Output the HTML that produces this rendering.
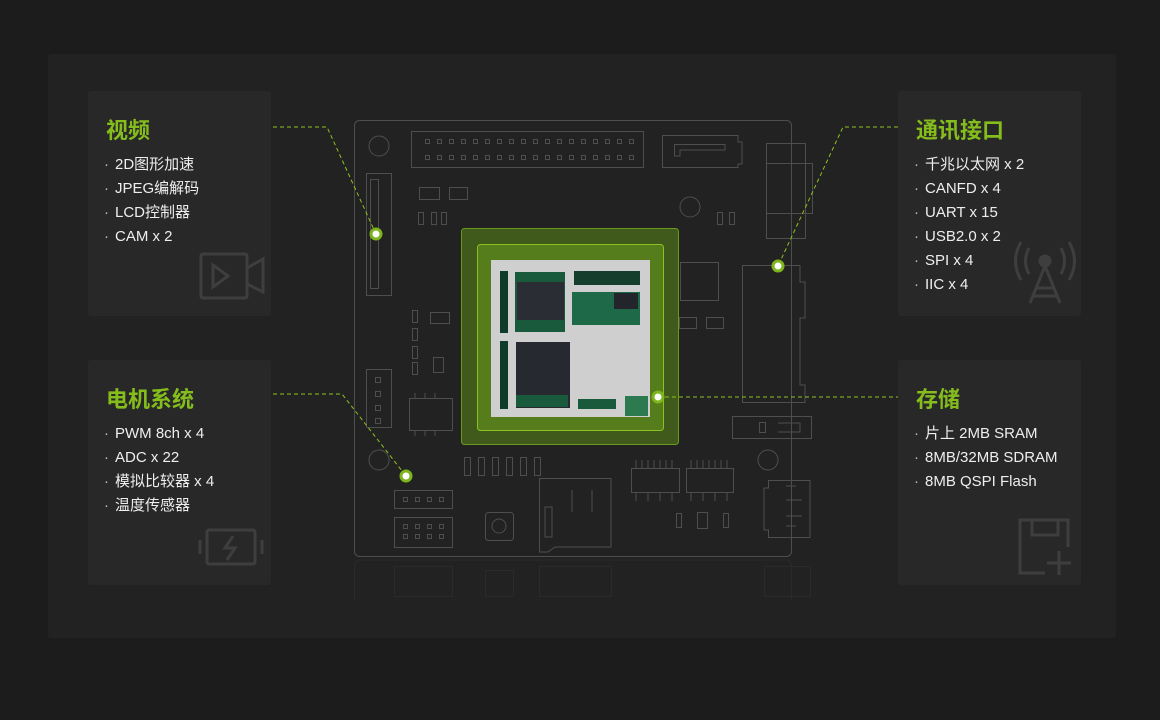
<!DOCTYPE html>
<html><head><meta charset="utf-8"><style>
html,body{margin:0;padding:0;background:#1c1c1c;width:1160px;height:720px;overflow:hidden;font-family:"Liberation Sans","Noto Sans CJK SC",sans-serif}
.panel{position:absolute;left:48px;top:54px;width:1068px;height:584px;background:#222;border-radius:3px}
.card{position:absolute;width:183px;height:225px;background:#282828;border-radius:3px}
.card h3{position:absolute;left:18px;top:22px;margin:0;font-size:22px;font-weight:bold;color:#84bd1c;font-family:"Noto Sans CJK SC",sans-serif}
.card ul{position:absolute;left:16px;top:62px;margin:0;padding:0;list-style:none;color:#eee;font-size:15px;line-height:24px}
.card li:before{content:"·";color:#bbb;display:inline-block;width:11px}
svg{position:absolute;left:0;top:0}
</style></head><body>
<div class="panel"></div>
<div class="card" style="left:88px;top:91px"><h3>视频</h3><ul><li>2D图形加速</li><li>JPEG编解码</li><li>LCD控制器</li><li>CAM x 2</li></ul></div>
<div class="card" style="left:88px;top:360px"><h3>电机系统</h3><ul><li>PWM 8ch x 4</li><li>ADC x 22</li><li>模拟比较器 x 4</li><li>温度传感器</li></ul></div>
<div class="card" style="left:898px;top:91px"><h3>通讯接口</h3><ul><li>千兆以太网 x 2</li><li>CANFD x 4</li><li>UART x 15</li><li>USB2.0 x 2</li><li>SPI x 4</li><li>IIC x 4</li></ul></div>
<div class="card" style="left:898px;top:360px"><h3>存储</h3><ul><li>片上 2MB SRAM</li><li>8MB/32MB SDRAM</li><li>8MB QSPI Flash</li></ul></div>
<svg width="1160" height="720" viewBox="0 0 1160 720">
<g fill="none" stroke="#3e3e3e" stroke-width="3">
<rect x="201" y="254" width="46" height="44" rx="2"/><path d="M247 268 L263 259 V292 L247 284"/><path d="M213 265 L228 276 L213 287Z"/>
<circle cx="1045" cy="261" r="5" fill="#3e3e3e"/><path d="M1045 266 L1030 303 M1045 266 L1060 303 M1036 288 L1054 288 M1033 296 L1057 296"/>
<path d="M1029 248 Q1022 261 1029 274 M1061 248 Q1068 261 1061 274 M1021 242 Q1010 261 1021 280 M1069 242 Q1080 261 1069 280"/>
<rect x="207" y="530" width="48" height="34" rx="2"/><path d="M200 540 V554 M262 540 V554 M233 536 L225 548 H235 L227 560"/>
<path d="M1045 573 H1020 V520 H1068 V547"/><path d="M1032 520 V535 H1058 V520"/><path d="M1047 563 H1071 M1059 551 V575"/>
</g>
<g fill="none" stroke="#4e4e4e" stroke-width="1">
<rect x="354.5" y="120.5" width="437" height="436" rx="5"/>
<rect x="411.5" y="131.5" width="232" height="36"/>
<path d="M662.5 135.5 H738 V142 H742 V164 H738 V167.5 H662.5Z M674.5 144.5 H725 V150 H680 V156 H674.5Z"/>
<rect x="766.5" y="143.5" width="39" height="95"/><rect x="766.5" y="163.5" width="46" height="50"/>
<circle cx="379" cy="146" r="10"/><circle cx="690" cy="207" r="10"/><circle cx="379" cy="460" r="10"/><circle cx="768" cy="460" r="10"/>
<rect x="366.5" y="173.5" width="25" height="122"/><rect x="370.5" y="179.5" width="8" height="109"/>
<path d="M742.5 265.5 H800 V282 H805 V318 H800 V385 H805 V402.5 H742.5Z"/>
<rect x="732.5" y="416.5" width="79" height="22"/><rect x="759.5" y="422.5" width="6" height="10"/><path d="M778 423 H800 V432 H778"/>
<path d="M768.5 480.5 H810 V537.5 H768.5 V530 H764 V488 H768.5Z M786 486 H796 M786 500 H802 M786 516 H802 M786 526 H796"/>
<rect x="394.5" y="490.5" width="58" height="18"/><rect x="394.5" y="517.5" width="58" height="30"/>
<rect x="485.5" y="512.5" width="28" height="28" rx="3"/><circle cx="499" cy="526" r="7"/>
<path d="M539.5 478.5 H611 V547 H555 L548 552 H539.5Z M545 507 V537 H552 V507Z M572 490 V512 M592 490 V512"/>
<rect x="631.5" y="468.5" width="48" height="24"/><rect x="686.5" y="468.5" width="47" height="24"/>
<rect x="366.5" y="369.5" width="25" height="58"/>
<rect x="409.5" y="398.5" width="43" height="32"/>
<rect x="680.5" y="262.5" width="38" height="38"/>
<rect x="419.5" y="187.5" width="20" height="12"/><rect x="449.5" y="187.5" width="18" height="12"/>
<rect x="430.5" y="312.5" width="19" height="11"/><rect x="679.5" y="317.5" width="17" height="11"/><rect x="706.5" y="317.5" width="17" height="11"/>
<rect x="433.5" y="357.5" width="10" height="15"/><rect x="697.5" y="512.5" width="10" height="16"/>
<path d="M425.5 139.5h4v4h-4z M437.5 139.5h4v4h-4z M449.5 139.5h4v4h-4z M461.5 139.5h4v4h-4z M473.5 139.5h4v4h-4z M485.5 139.5h4v4h-4z M497.5 139.5h4v4h-4z M509.5 139.5h4v4h-4z M521.5 139.5h4v4h-4z M533.5 139.5h4v4h-4z M545.5 139.5h4v4h-4z M557.5 139.5h4v4h-4z M569.5 139.5h4v4h-4z M581.5 139.5h4v4h-4z M593.5 139.5h4v4h-4z M605.5 139.5h4v4h-4z M617.5 139.5h4v4h-4z M629.5 139.5h4v4h-4z"/>
<path d="M425.5 155.5h4v4h-4z M437.5 155.5h4v4h-4z M449.5 155.5h4v4h-4z M461.5 155.5h4v4h-4z M473.5 155.5h4v4h-4z M485.5 155.5h4v4h-4z M497.5 155.5h4v4h-4z M509.5 155.5h4v4h-4z M521.5 155.5h4v4h-4z M533.5 155.5h4v4h-4z M545.5 155.5h4v4h-4z M557.5 155.5h4v4h-4z M569.5 155.5h4v4h-4z M581.5 155.5h4v4h-4z M593.5 155.5h4v4h-4z M605.5 155.5h4v4h-4z M617.5 155.5h4v4h-4z M629.5 155.5h4v4h-4z"/>
<path d="M418.5 212.5h5v12h-5z M431.5 212.5h5v12h-5z M441.5 212.5h5v12h-5z M717.5 212.5h5v12h-5z M729.5 212.5h5v12h-5z"/>
<path d="M412.5 310.5h5v12h-5z M412.5 328.5h5v12h-5z M412.5 346.5h5v12h-5z M412.5 362.5h5v12h-5z"/>
<path d="M464.5 457.5h6v18h-6z M478.5 457.5h6v18h-6z M492.5 457.5h6v18h-6z M506.5 457.5h6v18h-6z M520.5 457.5h6v18h-6z M534.5 457.5h6v18h-6z"/>
<path d="M676.5 513.5h5v14h-5z M723.5 513.5h5v14h-5z"/>
<path d="M375.5 377.5h5v5h-5z M375.5 391.5h5v5h-5z M375.5 405.5h5v5h-5z M375.5 418.5h5v5h-5z"/>
<path d="M403.5 497.5h4v4h-4z M415.5 497.5h4v4h-4z M427.5 497.5h4v4h-4z M439.5 497.5h4v4h-4z M403.5 524.5h4v4h-4z M415.5 524.5h4v4h-4z M427.5 524.5h4v4h-4z M439.5 524.5h4v4h-4z M403.5 534.5h4v4h-4z M415.5 534.5h4v4h-4z M427.5 534.5h4v4h-4z M439.5 534.5h4v4h-4z"/>
<path d="M636 468v-8 M642 468v-8 M648 468v-8 M654 468v-8 M660 468v-8 M666 468v-8 M672 468v-8 M636 493v8 M648 493v8 M660 493v8 M672 493v8 M691 468v-8 M697 468v-8 M703 468v-8 M709 468v-8 M715 468v-8 M721 468v-8 M727 468v-8 M691 493v8 M703 493v8 M715 493v8 M727 493v8"/>
<path d="M415 398v-5 M425 398v-5 M435 398v-5 M415 431v5 M425 431v5 M435 431v5"/>
</g>
<g stroke="#2a2a2a" fill="none"><path d="M354.5 600 V565 Q354.5 560 360 560 H786 Q791.5 560 791.5 565 V600"/><rect x="394.5" y="566.5" width="58" height="30"/><rect x="485.5" y="570.5" width="28" height="26"/><rect x="539.5" y="566.5" width="72" height="30"/><rect x="764.5" y="566.5" width="46" height="30"/></g>
<rect x="461.5" y="228.5" width="217" height="216" rx="3" fill="#3f5a1a" stroke="#6b9a1e"/>
<rect x="477.5" y="244.5" width="186" height="186" rx="3" fill="#557d1b" stroke="#8cc21f"/>
<rect x="491" y="260" width="159" height="157" fill="#cfcfcf"/>
<rect x="500" y="271" width="8" height="62" fill="#0f3c2a"/><rect x="500" y="341" width="8" height="68" fill="#0f3c2a"/>
<rect x="515" y="272" width="50" height="60" fill="#1a5a3c"/><rect x="517" y="282" width="47" height="38" fill="#2a2d33"/>
<rect x="574" y="271" width="66" height="14" fill="#163e2c"/>
<rect x="572" y="292" width="68" height="33" fill="#1e6a48"/><rect x="614" y="293" width="24" height="16" fill="#22262c"/>
<rect x="516" y="342" width="54" height="66" fill="#262a30"/><rect x="516" y="395" width="52" height="12" fill="#1a5a3c"/>
<rect x="578" y="399" width="38" height="10" fill="#1a5a3c"/><rect x="625" y="396" width="23" height="20" fill="#2e7a50"/>
<g stroke="#8cc21f" stroke-width="1" stroke-dasharray="4 3" fill="none">
<path d="M273 127 H327 L376 234"/><path d="M273 394 H342 L406 476"/><path d="M898 127 H843 L778 266"/><path d="M658 397 H898"/>
</g>
<g fill="#fff" stroke="#7db51c" stroke-width="3">
<circle cx="376" cy="234" r="5"/><circle cx="406" cy="476" r="5"/><circle cx="778" cy="266" r="5"/><circle cx="658" cy="397" r="5"/>
</g>
</svg>
</body></html>
